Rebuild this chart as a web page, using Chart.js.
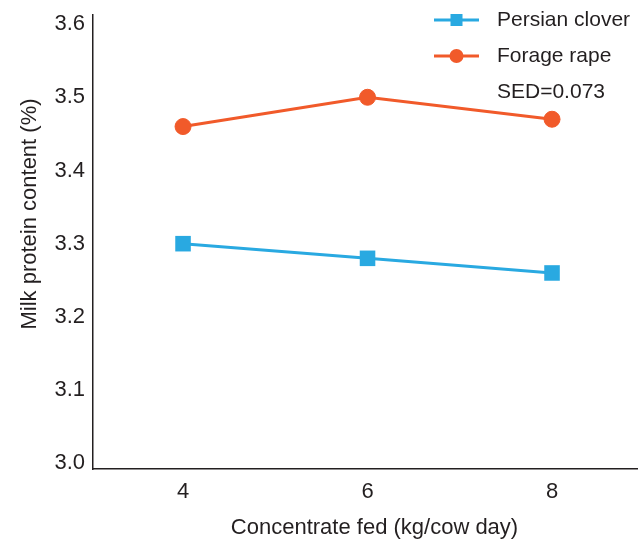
<!DOCTYPE html>
<html><head><meta charset="utf-8">
<script src="https://cdn.jsdelivr.net/npm/chart.js@4.4.0/dist/chart.umd.min.js"></script>
<style>html,body{margin:0;padding:0;background:#fff;overflow:hidden}canvas{display:block}</style>
</head><body>
<canvas id="c" width="638" height="545"></canvas>
<script>
// ---- data ----
const concentrate = [4, 6, 8];
const persianClover = [3.30, 3.28, 3.26];
const forageRape = [3.46, 3.50, 3.47];
const yTickValues = [3.0, 3.1, 3.2, 3.3, 3.4, 3.5, 3.6];
const xTickValues = [4, 6, 8];
const seriesNames = ['Persian clover', 'Forage rape'];
const sedLabel = 'SED=0.073';
const xTitle = 'Concentrate fed (kg/cow day)';
const yTitle = 'Milk protein content (%)';

// ---- style ----
const BLUE = '#29a9e1';
const ORANGE = '#f15a2a';
const INK = '#231f20';
const FONT = "'Liberation Sans', Arial, sans-serif";

Chart.defaults.font.family = FONT;
Chart.defaults.color = INK;

const toXY = (xs, ys) => xs.map((x, i) => ({x: x, y: ys[i]}));

const customPlugin = {
  id: 'custom',
  afterDraw(chart) {
    const ctx = chart.ctx;
    const a = chart.chartArea;
    ctx.save();
    ctx.fillStyle = INK;
    ctx.font = '22px ' + FONT;
    // x title
    ctx.textAlign = 'center';
    ctx.textBaseline = 'middle';
    ctx.fillText(xTitle, (a.left + a.right) / 2 + 9, a.bottom + 59);
    // y title
    ctx.textBaseline = 'alphabetic';
    ctx.translate(36, (a.top + a.bottom) / 2 - 28);
    ctx.rotate(-Math.PI / 2);
    ctx.fillText(yTitle, 0, 0);
    ctx.restore();

    // legend
    ctx.save();
    const x1 = a.right - 204, x2 = a.right - 159, tx = a.right - 141;
    const rows = [a.top + 5, a.top + 41, a.top + 77];
    const cols = [BLUE, ORANGE];
    for (let i = 0; i < 2; i++) {
      const y = rows[i];
      ctx.strokeStyle = cols[i];
      ctx.lineWidth = 3;
      ctx.beginPath(); ctx.moveTo(x1, y); ctx.lineTo(x2, y); ctx.stroke();
      ctx.fillStyle = cols[i];
      const cx = (x1 + x2) / 2;
      if (i === 0) { ctx.fillRect(cx - 6, y - 6, 12, 12); }
      else { ctx.beginPath(); ctx.arc(cx, y, 7, 0, Math.PI * 2); ctx.fill(); }
    }
    ctx.fillStyle = INK;
    ctx.font = '21px ' + FONT;
    ctx.textAlign = 'left';
    ctx.textBaseline = 'middle';
    ctx.fillText(seriesNames[0], tx, rows[0]);
    ctx.fillText(seriesNames[1], tx, rows[1]);
    ctx.fillText(sedLabel, tx, rows[2]);
    ctx.restore();
  }
};

new Chart(document.getElementById('c'), {
  type: 'line',
  data: {
    datasets: [
      {
        label: seriesNames[0],
        data: toXY(concentrate, persianClover),
        borderColor: BLUE, backgroundColor: BLUE,
        borderWidth: 3, pointStyle: 'rect', pointRadius: 11, pointBorderWidth: 0,
        fill: false, tension: 0
      },
      {
        label: seriesNames[1],
        data: toXY(concentrate, forageRape),
        borderColor: ORANGE, backgroundColor: ORANGE,
        borderWidth: 3, pointStyle: 'circle', pointRadius: 8, pointBorderWidth: 1,
        fill: false, tension: 0
      }
    ]
  },
  options: {
    responsive: false,
    animation: false,
    devicePixelRatio: 1,
    layout: {autoPadding: false, padding: {top: 15, right: 0, left: 0, bottom: 0}},
    plugins: {legend: {display: false}, tooltip: {enabled: false}},
    scales: {
      x: {
        type: 'linear',
        min: 3.024, max: 8.932,
        afterBuildTicks: s => { s.ticks = xTickValues.map(v => ({value: v})); },
        afterFit: s => { s.height = 76; s.paddingLeft = 0; s.paddingRight = 0; },
        grid: {display: false, drawTicks: false},
        border: {display: true, color: INK, width: 1.5},
        ticks: {font: {size: 22}, color: INK, padding: 10, callback: v => String(v), maxRotation: 0},
        title: {display: false}
      },
      y: {
        type: 'linear',
        min: 2.9922, max: 3.6124,
        afterBuildTicks: s => { s.ticks = yTickValues.map(v => ({value: v})); },
        afterFit: s => { s.width = 93; s.paddingTop = 0; s.paddingBottom = 0; },
        grid: {display: false, drawTicks: false},
        border: {display: true, color: INK, width: 1.5},
        ticks: {font: {size: 22}, color: INK, padding: 8, callback: v => Number(v).toFixed(1)}
      }
    }
  },
  plugins: [customPlugin]
});
</script>
</body></html>
